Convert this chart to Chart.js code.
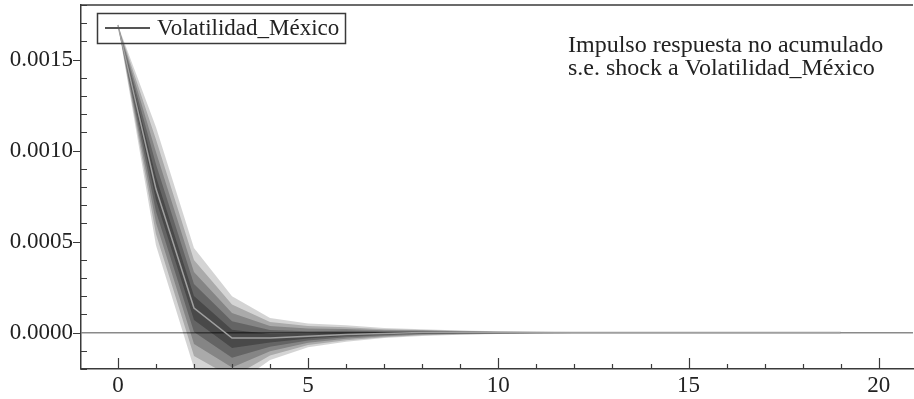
<!DOCTYPE html>
<html>
<head>
<meta charset="utf-8">
<script src="https://cdn.jsdelivr.net/npm/chart.js@4.4.1/dist/chart.umd.min.js"></script>
<style>
  html, body { margin: 0; padding: 0; background: #fff; }
  #wrap { width: 914px; height: 399px; position: relative; }
</style>
</head>
<body>
<div id="wrap"><canvas id="chart"></canvas></div>
<script>
// horizonte del impulso respuesta
const horizons = [0,1,2,3,4,5,6,7,8,9,10,11,12,13,14,15,16,17,18,19];
const meanResp = [0.00169, 0.00079, 0.000135, -0.00003, -0.00003, -0.00002, -0.00001, -0.000005, 0, 0, 0, 0, 0, 0, 0, 0, 0, 0, 0, 0];

// bandas del abanico (5 = exterior, 1 = interior)
const up5 = [0.00169, 0.00113, 0.000465, 0.0002, 0.00008, 0.00005, 0.00004, 0.000025, 0.000018, 0.000012, 0.000008, 0.000005, 0.000003, 0.000003, 0.000003, 0.000003, 0.000003, 0.000003, 0.000003, 0.000003];
const lo5 = [0.00169, 0.00048, -0.000195, -0.0003, -0.00015, -0.00008, -0.00005, -0.00003, -0.000018, -0.000012, -0.000008, -0.000005, -0.000003, -0.000003, -0.000003, -0.000003, -0.000003, -0.000003, -0.000003, -0.000003];
const up4 = [0.00169, 0.001062, 0.000399, 0.000154, 0.000058, 0.000036, 0.00003, 0.000019, 0.000014, 0.00001, 0.000006, 0.000004, 0.000002, 0.000002, 0.000002, 0.000002, 0.000002, 0.000002, 0.000002, 0.000002];
const lo4 = [0.00169, 0.000542, -0.000129, -0.000246, -0.000126, -0.000068, -0.000042, -0.000025, -0.000014, -0.00001, -0.000006, -0.000004, -0.000002, -0.000002, -0.000002, -0.000002, -0.000002, -0.000002, -0.000002, -0.000002];
const up3 = [0.00169, 0.000994, 0.000333, 0.000108, 0.000036, 0.000022, 0.00002, 0.000013, 0.000011, 0.000007, 0.000005, 0.000003, 0.000002, 0.000002, 0.000002, 0.000002, 0.000002, 0.000002, 0.000002, 0.000002];
const lo3 = [0.00169, 0.000604, -0.000063, -0.000192, -0.000102, -0.000056, -0.000034, -0.00002, -0.000011, -0.000007, -0.000005, -0.000003, -0.000002, -0.000002, -0.000002, -0.000002, -0.000002, -0.000002, -0.000002, -0.000002];
const up2 = [0.00169, 0.000926, 0.000267, 0.000062, 0.000014, 0.000008, 0.00001, 0.000007, 0.000007, 0.000005, 0.000003, 0.000002, 0.000001, 0.000001, 0.000001, 0.000001, 0.000001, 0.000001, 0.000001, 0.000001];
const lo2 = [0.00169, 0.000666, 0.000003, -0.000138, -0.000078, -0.000044, -0.000026, -0.000015, -0.000007, -0.000005, -0.000003, -0.000002, -0.000001, -0.000001, -0.000001, -0.000001, -0.000001, -0.000001, -0.000001, -0.000001];
const up1 = [0.00169, 0.000858, 0.000201, 0.000016, -0.000008, -0.000006, 0, 0.000001, 0.000004, 0.000002, 0.000002, 0.000001, 0.000001, 0.000001, 0.000001, 0.000001, 0.000001, 0.000001, 0.000001, 0.000001];
const lo1 = [0.00169, 0.000728, 0.000069, -0.000084, -0.000054, -0.000032, -0.000018, -0.00001, -0.000004, -0.000002, -0.000002, -0.000001, -0.000001, -0.000001, -0.000001, -0.000001, -0.000001, -0.000001, -0.000001, -0.000001];

const xTickLabels = [0, 5, 10, 15, 20];
const yTickLabels = [0, 0.0005, 0.0010, 0.0015];
const seriesName = 'Volatilidad_México';
const noteLines = ['Impulso respuesta no acumulado', 's.e. shock a Volatilidad_México'];

const FONT = '"Liberation Serif", "Times New Roman", serif';
const AXIS = '#3a3a3a';

function pts(arr) {
  return horizons.map((h, i) => ({ x: h, y: arr[i] }));
}

const bands = [[up5, lo5], [up4, lo4], [up3, lo3], [up2, lo2], [up1, lo1]];
const bandFill = ['rgba(0,0,0,0.17)', 'rgba(0,0,0,0.2)', 'rgba(0,0,0,0.22)', 'rgba(0,0,0,0.25)', 'rgba(0,0,0,0.28)'];

const datasets = [{
  label: seriesName,
  data: pts(meanResp),
  borderColor: '#a0a0a0',
  borderWidth: 1.5,
  pointRadius: 0,
  fill: false,
  tension: 0
}];
bands.forEach((b, i) => {
  datasets.push({
    label: 'up', data: pts(b[0]), borderWidth: 0, borderColor: 'rgba(0,0,0,0)',
    pointRadius: 0, fill: '+1', backgroundColor: bandFill[i], tension: 0
  });
  datasets.push({
    label: 'lo', data: pts(b[1]), borderWidth: 0, borderColor: 'rgba(0,0,0,0)',
    pointRadius: 0, fill: false, tension: 0
  });
});

// ticks, marco superior, leyenda y nota
const decor = {
  id: 'decor',
  afterDraw(c) {
    const ctx = c.ctx;
    const a = c.chartArea;
    const xs = c.scales.x, ys = c.scales.y;
    ctx.save();
    ctx.strokeStyle = AXIS;
    ctx.lineWidth = 1.5;
    ctx.beginPath();
    ctx.moveTo(a.left, a.top); ctx.lineTo(a.right, a.top);
    ctx.stroke();

    ctx.lineWidth = 1.2;
    ctx.beginPath();
    for (let k = -2; k <= 18; k++) {
      const y = Math.round(ys.getPixelForValue(k * 0.0001)) + 0.5;
      if (k % 5 === 0) { ctx.moveTo(a.left - 8, y); ctx.lineTo(a.left, y); }
      else { ctx.moveTo(a.left, y); ctx.lineTo(a.left + 6, y); }
    }
    for (let k = 0; k <= 20; k++) {
      const x = Math.round(xs.getPixelForValue(k)) + 0.5;
      ctx.moveTo(x, a.bottom);
      ctx.lineTo(x, a.bottom - (k % 5 === 0 ? 11 : 5));
    }
    ctx.stroke();

    // leyenda
    ctx.lineWidth = 1.5;
    ctx.strokeRect(97.5, 13.5, 248, 30);
    ctx.strokeStyle = '#555';
    ctx.lineWidth = 2;
    ctx.beginPath();
    ctx.moveTo(105, 28); ctx.lineTo(150, 28);
    ctx.stroke();
    ctx.fillStyle = '#222';
    ctx.font = '23px ' + FONT;
    ctx.textBaseline = 'middle';
    ctx.textAlign = 'left';
    ctx.fillText(seriesName, 157, 29);

    ctx.font = '24px ' + FONT;
    ctx.fillText(noteLines[0], 568, 46);
    ctx.fillText(noteLines[1], 568, 69);
    ctx.restore();
  }
};

const chart = new Chart(document.getElementById('chart'), {
  type: 'line',
  data: { datasets: datasets },
  plugins: [decor],
  options: {
    responsive: true,
    maintainAspectRatio: false,
    animation: false,
    layout: { padding: { top: 5, right: 1, left: 0, bottom: 0 } },
    plugins: { legend: { display: false }, tooltip: { enabled: false } },
    scales: {
      x: {
        type: 'linear',
        min: -0.97, max: 20.9,
        afterBuildTicks: s => { s.ticks = xTickLabels.map(v => ({ value: v })); },
        afterFit: s => { s.height = 30; s.paddingLeft = 0; s.paddingRight = 0; },
        grid: { display: false, drawTicks: false },
        border: { display: true, color: AXIS, width: 1.5 },
        ticks: { padding: 3, color: '#222', font: { family: FONT, size: 23 }, maxRotation: 0,
                 callback: v => String(v) }
      },
      y: {
        type: 'linear',
        min: -0.0002, max: 0.0018,
        afterBuildTicks: s => { s.ticks = yTickLabels.map(v => ({ value: v })); },
        afterFit: s => { s.width = 81; s.paddingTop = 0; s.paddingBottom = 0; },
        grid: {
          drawTicks: false,
          lineWidth: 1.5,
          color: ctx => (ctx.tick && Math.abs(ctx.tick.value) < 1e-12) ? '#8a8a8a' : 'rgba(0,0,0,0)'
        },
        border: { display: true, color: AXIS, width: 1.5 },
        ticks: { padding: 8, color: '#222', font: { family: FONT, size: 23 },
                 callback: v => v.toFixed(4) }
      }
    }
  }
});
</script>
</body>
</html>
